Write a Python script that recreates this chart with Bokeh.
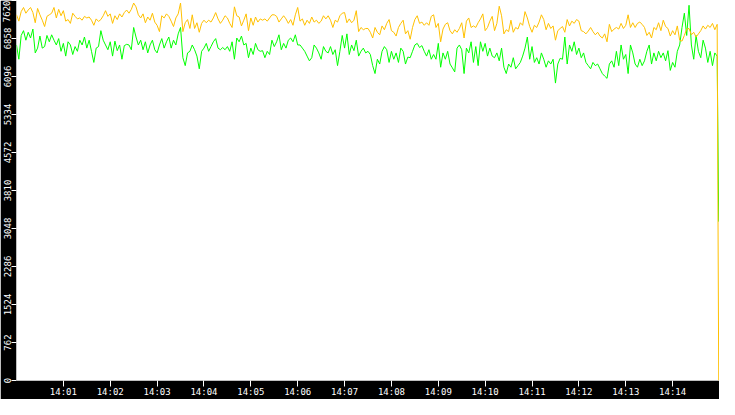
import numpy as np
import pandas as pd
from bokeh.plotting import figure
from bokeh.models import Range1d, FixedTicker, DatetimeTickFormatter, ColumnDataSource
from bokeh.embed import file_html
from bokeh.resources import INLINE

# ---- data ----
start_time = "2024-01-01 14:00:00"
sample_seconds = 3
end_time = "2024-01-01 14:14:59"

orange_values = [
    7333, 7206, 7397, 7480, 7365, 7429, 7480, 7378, 7174, 7461, 7333, 7225, 7098, 7302, 7333,
    7365, 7480, 7270, 7442, 7314, 7416, 7206, 7238, 7161, 7365, 7302, 7251, 7270, 7225, 7302,
    7270, 7289, 7225, 7123, 7251, 7200, 7238, 7314, 7416, 7302, 7352, 7161, 7314, 7238, 7352,
    7289, 7378, 7429, 7365, 7442, 7569, 7493, 7333, 7270, 7352, 7174, 7289, 7225, 7365, 7187,
    7123, 6996, 7314, 7270, 7352, 7302, 7206, 7098, 7270, 7352, 7569, 6996, 7174, 7238, 7059,
    7333, 7059, 7174, 6983, 7161, 7225, 7174, 7225, 7187, 7270, 7378, 7251, 7161, 7225, 7314,
    7270, 7161, 7079, 7493, 7314, 7289, 7110, 7225, 7352, 7015, 7270, 7123, 7289, 7187, 7251,
    7225, 7251, 7206, 7270, 7333, 7333, 7302, 7187, 7251, 7314, 7251, 7161, 7238, 7123, 7333,
    7480, 7206, 7251, 7123, 7225, 7161, 7289, 7187, 7225, 7161, 7206, 7314, 7251, 7314, 7225,
    7079, 7225, 7187, 7314, 7365, 7378, 7174, 7251, 7174, 7225, 7416, 6996, 7079, 7034, 7059,
    7059, 6983, 6868, 7079, 6983, 6932, 7110, 7034, 7161, 7238, 7015, 6983, 6907, 7079, 7161,
    7225, 6951, 7015, 6843, 7079, 7238, 7314, 7161, 7187, 7123, 7174, 7123, 7302, 7333, 7079,
    7161, 6792, 7047, 7142, 7174, 7015, 6951, 7034, 6983, 7059, 7174, 6868, 7206, 7270, 7079,
    7110, 7079, 7174, 7251, 7352, 7015, 7079, 7206, 7302, 7015, 7161, 7505, 7314, 6951, 7034,
    6996, 7225, 6983, 7079, 7047, 7174, 7123, 7397, 7270, 7098, 6983, 7123, 7079, 7187, 7333,
    7238, 7034, 7161, 7059, 7110, 6824, 7015, 7059, 7098, 6983, 7238, 7110, 7206, 7161, 7238,
    7206, 7015, 6996, 6951, 7008, 7079, 6996, 6932, 6983, 6907, 6868, 6951, 6792, 7142, 6996,
    7047, 7079, 7047, 7161, 7059, 7123, 7333, 7079, 7174, 7079, 7161, 7187, 7142, 7079, 6919,
    6983, 6868, 7079, 7034, 7174, 7015, 7225, 7098, 7059, 6907, 7015, 6932, 7110, 6824, 6805,
    6919, 7047, 7059, 6932, 6983, 6887, 6951, 7015, 7110, 7047, 7123, 7079, 7161, 7034, 7142,
]
orange_last = 0

green_values = [
    6728, 6442, 6919, 7015, 6824, 6983, 6868, 7047, 6569, 6665, 6907, 6665, 6696, 6919, 6792,
    6932, 6824, 6728, 6856, 6601, 6760, 6505, 6792, 6728, 6537, 6696, 6601, 6824, 6728, 6888,
    6665, 6824, 6601, 6378, 6665, 6696, 7015, 6824, 6728, 6633, 6792, 6505, 6805, 6614, 6728,
    6442, 6715, 6741, 6728, 6633, 7079, 6888, 6728, 6824, 6633, 6792, 6569, 6728, 6824, 6633,
    6569, 6728, 6856, 6665, 6792, 6888, 6665, 6824, 6728, 6951, 7079, 6473, 6314, 6569, 6601,
    6728, 6633, 6505, 6250, 6601, 6665, 6760, 6601, 6696, 6792, 6856, 6665, 6633, 6677, 6633,
    6696, 6601, 6792, 6442, 6868, 6792, 6907, 6728, 6760, 6473, 6665, 6537, 6760, 6633, 6601,
    6614, 6473, 6601, 6537, 6824, 6696, 6792, 6932, 6633, 6760, 6665, 6824, 6868, 6792, 6932,
    6728, 6728, 6665, 6601, 6505, 6410, 6473, 6728, 6665, 6569, 6442, 6696, 6601, 6569, 6696,
    6537, 6633, 6314, 6601, 6919, 6665, 6951, 6537, 6728, 6614, 6824, 6505, 6601, 6665, 6569,
    6601, 6537, 6314, 6155, 6442, 6346, 6601, 6696, 6633, 6378, 6601, 6442, 6569, 6378, 6665,
    6601, 6346, 6486, 6473, 6601, 6728, 6760, 6677, 6715, 6601, 6505, 6633, 6442, 6537, 6442,
    6760, 6282, 6569, 6442, 6601, 6346, 6270, 6187, 6665, 6728, 6633, 6155, 6665, 6569, 6792,
    6378, 6696, 6314, 6792, 6601, 6760, 6505, 6665, 6505, 6473, 6569, 6410, 6665, 6282, 6155,
    6346, 6282, 6473, 6250, 6314, 6378, 6505, 6665, 6888, 6442, 6696, 6378, 6473, 6346, 6569,
    6442, 6282, 6410, 6346, 6442, 5964, 6346, 6461, 6442, 6888, 6346, 6728, 6601, 6792, 6537,
    6665, 6473, 6569, 6378, 6314, 6250, 6378, 6314, 6346, 6250, 6155, 6104, 6059, 6346, 6410,
    6282, 6601, 6314, 6728, 6442, 6537, 6155, 6728, 6569, 6346, 6282, 6442, 6314, 6410, 6601,
    6728, 6346, 6569, 6410, 6601, 6473, 6569, 6410, 6614, 6218, 6378, 6282, 6601, 6728, 7079,
    7365, 6919, 7524, 6728, 6442, 6919, 6601, 6473, 6824, 6665, 6378, 6601, 6314, 6569, 6505,
]
green_last = 3186

y_ticks = [0, 762, 1524, 2286, 3048, 3810, 4572, 5334, 6096, 6858, 7620]
x_tick_labels = ["14:01", "14:02", "14:03", "14:04", "14:05", "14:06", "14:07",
                 "14:08", "14:09", "14:10", "14:11", "14:12", "14:13", "14:14"]

# ---- build ----
times = pd.date_range(start_time, periods=len(orange_values), freq=f"{sample_seconds}s")
times = times.append(pd.DatetimeIndex([pd.Timestamp(end_time)]))
src = ColumnDataSource(data=dict(
    t=times,
    orange=orange_values + [orange_last],
    green=green_values + [green_last],
))

t0 = pd.Timestamp(start_time)
x_start = t0
x_end = t0 + pd.Timedelta(minutes=15)
tick_ms = [pd.Timestamp(f"2024-01-01 {lab}:00").value // 10**6 for lab in x_tick_labels]

p = figure(width=719, height=399, x_axis_type="datetime",
           output_backend="svg", toolbar_location=None,
           x_range=Range1d(x_start, x_end), y_range=Range1d(0, 7620),
           min_border_left=16, min_border_bottom=17, min_border_top=0, min_border_right=0,
           border_fill_color="black", background_fill_color="white",
           outline_line_color=None)
p.grid.visible = False

p.line("t", "green", source=src, line_color="#00FF00", line_width=1)
p.line("t", "orange", source=src, line_color="#FFC000", line_width=1)

font = "DejaVu Sans Mono"
for ax in (p.xaxis[0], p.yaxis[0]):
    ax.axis_line_color = None
    ax.major_tick_line_color = "white"
    ax.major_tick_in = 0
    ax.minor_tick_line_color = None
    ax.major_label_text_color = "white"
    ax.major_label_text_font = font
    ax.major_label_text_font_size = "9px"

p.yaxis.ticker = FixedTicker(ticks=y_ticks)
p.yaxis.major_label_orientation = "vertical"
p.yaxis.major_tick_out = 5
p.yaxis.major_label_standoff = 1

p.xaxis.ticker = FixedTicker(ticks=tick_ms)
fmt = "%H:%M"
p.xaxis.formatter = DatetimeTickFormatter(seconds=fmt, minsec=fmt, minutes=fmt,
                                          hourmin=fmt, hours=fmt)
p.xaxis.major_tick_out = 6
p.xaxis.major_label_standoff = 0

open("out.html", "w").write(file_html(p, INLINE))
